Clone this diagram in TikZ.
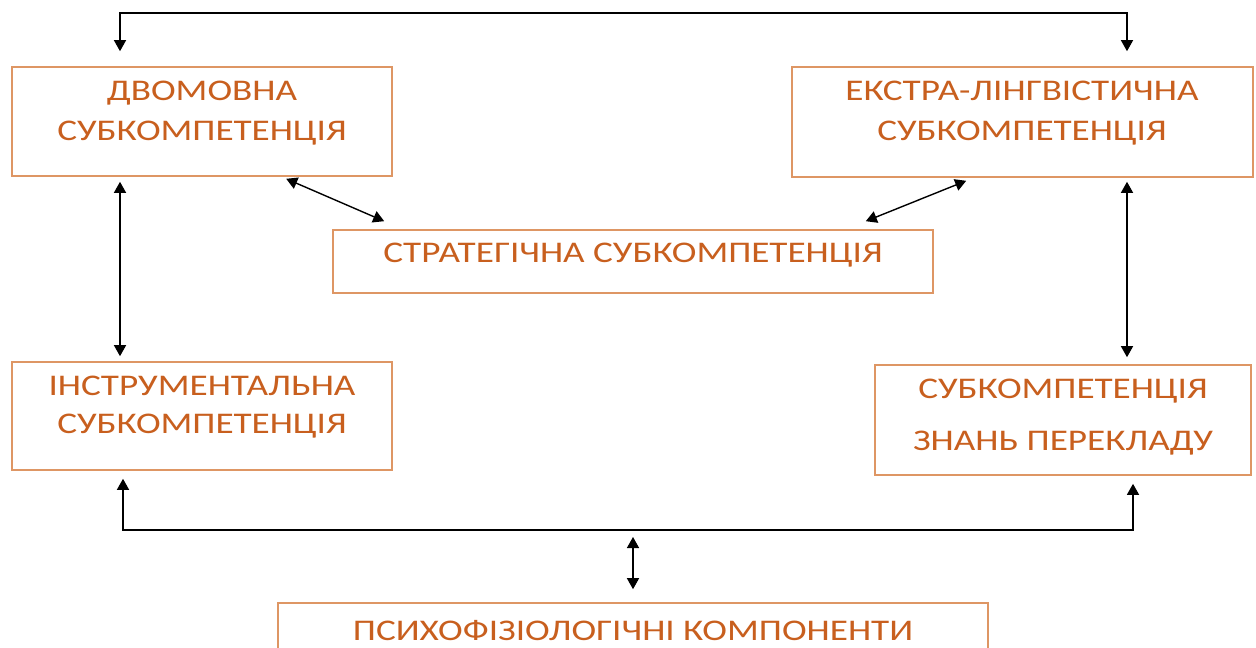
\documentclass[tikz,border=0pt]{standalone}
\usepackage{fontspec}
\setmainfont{Carlito}[FakeStretch=1.24]
\usetikzlibrary{arrows.meta,calc}
\definecolor{txt}{RGB}{200,95,30}
\definecolor{brd}{RGB}{222,150,100}
\begin{document}
\begin{tikzpicture}[x=1pt,y=-1pt,
  box/.style={draw=brd, line width=1.6pt, inner sep=0pt},
  lbl/.style={text=txt, font=\fontsize{30}{36}\selectfont, anchor=base, inner sep=0pt},
  conn/.style={draw=black, line width=1.4pt},
  dbl/.style={{Triangle[length=11pt,width=12pt]}-{Triangle[length=11pt,width=12pt]}}]
\fill[white] (0,0) rectangle (1256,648);
\clip (0,0) rectangle (1256,648);
\useasboundingbox (0,0) rectangle (1256,648);
% boxes
\node[box, minimum width=380pt, minimum height=109pt] (dvo) at (202,121.5) {};
\node[box, minimum width=461pt, minimum height=110pt] (ek) at (1022.5,122) {};
\node[box, minimum width=600pt, minimum height=63pt] (st) at (633,261.5) {};
\node[box, minimum width=380pt, minimum height=108pt] (in) at (202,416) {};
\node[box, minimum width=376pt, minimum height=110pt] (zn) at (1063,420) {};
\node[box, minimum width=710pt, minimum height=77pt] (ps) at (633,641.5) {};
% labels
\node[lbl] (dvoA) at (202,100) {ДВОМОВНА};
\node[lbl] (dvoB) at (202,140) {СУБКОМПЕТЕНЦІЯ};
\node[lbl] (ekA) at (1022,100) {ЕКСТРА-ЛІНГВІСТИЧНА};
\node[lbl] (ekB) at (1022,140) {СУБКОМПЕТЕНЦІЯ};
\node[lbl] (stA) at (633,262) {СТРАТЕГІЧНА СУБКОМПЕТЕНЦІЯ};
\node[lbl] (inA) at (202,395) {ІНСТРУМЕНТАЛЬНА};
\node[lbl] (inB) at (202,433) {СУБКОМПЕТЕНЦІЯ};
\node[lbl] (znA) at (1063,398) {СУБКОМПЕТЕНЦІЯ};
\node[lbl] (znB) at (1063,450) {ЗНАНЬ ПЕРЕКЛАДУ};
\node[lbl] (psA) at (633,640) {ПСИХОФІЗІОЛОГІЧНІ КОМПОНЕНТИ};
% connectors
\coordinate (t1) at (120,13);
\coordinate (t2) at (1127,13);
\draw[conn, dbl, shorten <=15pt, shorten >=15pt] (t1 |- dvo.north) -- (t1) -- (t2) -- (t2 |- ek.north);
\draw[conn, dbl, shorten <=5pt, shorten >=5pt] (dvo.south -| t1) -- (in.north -| t1);
\draw[conn, dbl, shorten <=4pt, shorten >=7pt] (ek.south -| t2) -- (zn.north -| t2);
\draw[conn, dbl] ([xshift=275pt,yshift=-2pt]dvo.south west) -- ([xshift=52pt,yshift=8pt]st.north west);
\draw[conn, dbl] ([xshift=-68pt,yshift=8pt]st.north east) -- ([xshift=175pt,yshift=-3pt]ek.south west);
\coordinate (b1) at (123,530);
\coordinate (b2) at (1133,530);
\draw[conn, dbl, shorten <=8pt, shorten >=8pt] (b1 |- in.south) -- (b1) -- (b2) -- (b2 |- zn.south);
\coordinate (m) at (633,530);
\draw[conn, dbl, shorten <=7pt, shorten >=13pt] (m) -- (ps.north);
\end{tikzpicture}
\end{document}
